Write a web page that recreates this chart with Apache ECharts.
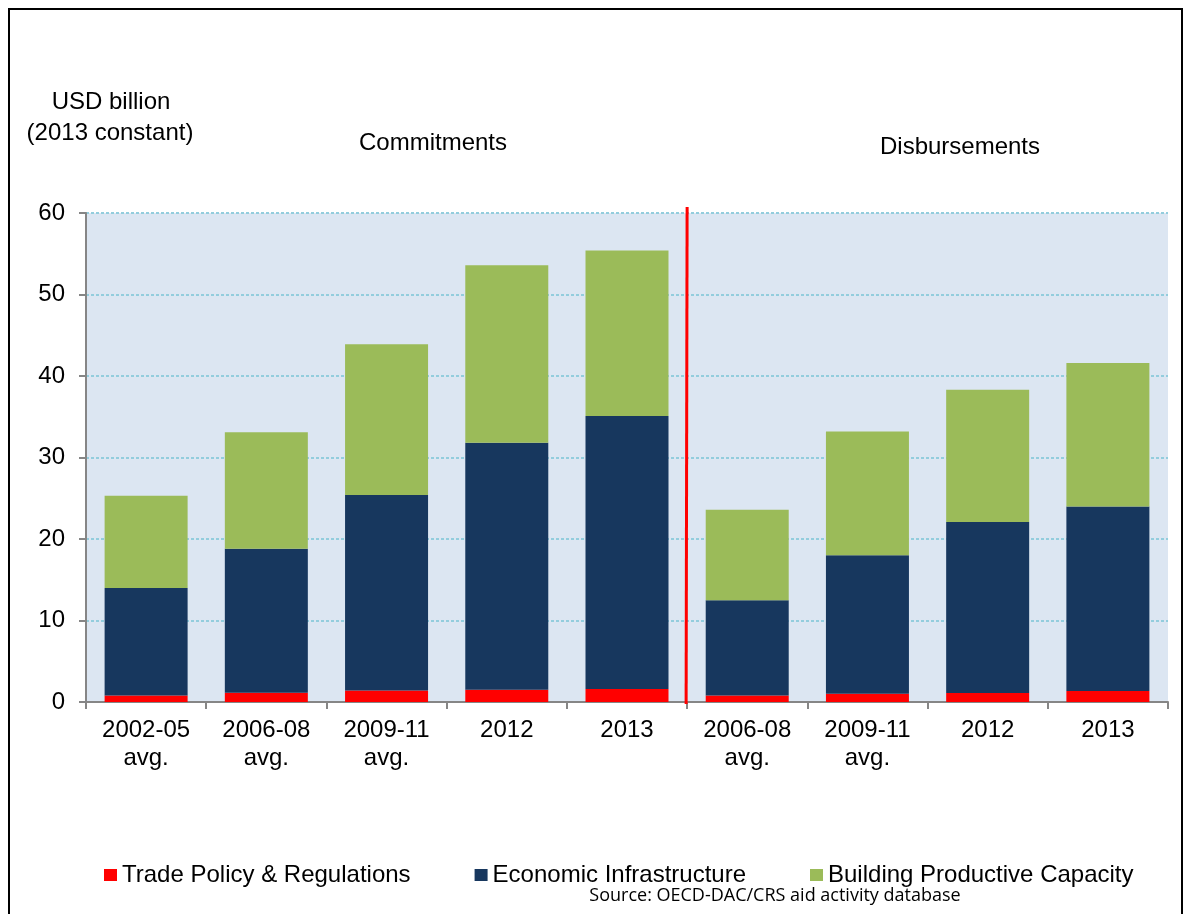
<!DOCTYPE html>
<html><head><meta charset="utf-8">
<script src="https://cdn.jsdelivr.net/npm/echarts@6/dist/echarts.min.js"></script>
<style>html,body{margin:0;padding:0;background:#fff}#c{width:1184px;height:914px}</style>
</head><body><div id="c"></div>
<script>
const categories = ['2002-05\navg.', '2006-08\navg.', '2009-11\navg.', '2012', '2013', '2006-08\navg.', '2009-11\navg.', '2012', '2013'];
// cumulative totals
const tradePolicy = [0.8, 1.15, 1.4, 1.5, 1.6, 0.8, 1.0, 1.1, 1.35];
const econInfraTop = [14.0, 18.8, 25.4, 31.8, 35.1, 12.5, 18.0, 22.1, 24.0];
const totalTop = [25.3, 33.1, 43.9, 53.6, 55.4, 23.6, 33.2, 38.3, 41.6];
const econInfra = econInfraTop.map((v, i) => +(v - tradePolicy[i]).toFixed(2));
const buildCap = totalTop.map((v, i) => +(v - econInfraTop[i]).toFixed(2));
const yTicks = [0, 10, 20, 30, 40, 50, 60];

const chart = echarts.init(document.getElementById('c'), null, {renderer: 'canvas'});
const font = 'Liberation Sans, Arial, sans-serif';
const ts = {fontSize: 24, fontWeight: 'normal', color: '#000', fontFamily: font};
const option = {
  backgroundColor: '#fff',
  animation: false,
  textStyle: {fontFamily: font},
  title: [
    {text: 'USD billion', left: 106, top: 85, textAlign: 'center', textStyle: ts},
    {text: '(2013 constant)', left: 105, top: 116, textAlign: 'center', textStyle: ts},
    {text: 'Commitments', left: 428, top: 126, textAlign: 'center', textStyle: ts},
    {text: 'Disbursements', left: 955, top: 130, textAlign: 'center', textStyle: ts},
    {text: 'Source: OECD-DAC/CRS aid activity database', left: 770, top: 882, textAlign: 'center', textStyle: {fontSize: 18, fontWeight: 'normal', color: '#000', fontFamily: 'Open Sans, sans-serif'}}
  ],
  legend: {
    left: 104, top: 863, padding: 0, itemWidth: 13, itemHeight: 12, itemGap: 64, icon: 'rect',
    textStyle: {fontSize: 24, color: '#000', fontFamily: font},
    data: ['Trade Policy & Regulations', 'Economic Infrastructure', 'Building Productive Capacity']
  },
  grid: {left: 86, right: 16, top: 213, bottom: 212, show: true, backgroundColor: '#DCE6F2', borderWidth: 0},
  xAxis: {
    type: 'category', data: categories,
    axisLine: {lineStyle: {color: '#868686', width: 2}},
    axisTick: {show: true, length: 7, lineStyle: {color: '#868686', width: 2}},
    axisLabel: {fontSize: 24, color: '#000', lineHeight: 28, margin: 14, interval: 0}
  },
  yAxis: {
    type: 'value', min: 0, max: 60, interval: 10,
    axisLine: {show: true, lineStyle: {color: '#868686', width: 2}},
    axisTick: {show: true, length: 7, lineStyle: {color: '#868686', width: 2}},
    axisLabel: {fontSize: 24, color: '#000', margin: 21},
    splitLine: {lineStyle: {color: '#93CDDD', type: [3, 2], width: 2}}
  },
  series: [
    {name: 'Trade Policy & Regulations', type: 'bar', stack: 's', data: tradePolicy, barWidth: 83, itemStyle: {color: '#FF0000'}},
    {name: 'Economic Infrastructure', type: 'bar', stack: 's', data: econInfra, barWidth: 83, itemStyle: {color: '#17375E'}},
    {name: 'Building Productive Capacity', type: 'bar', stack: 's', data: buildCap, barWidth: 83, itemStyle: {color: '#9BBB59'}}
  ]
};
chart.setOption(option);
const xa = chart.convertToPixel({xAxisIndex: 0}, 4);
const xb = chart.convertToPixel({xAxisIndex: 0}, 5);
const sepX = (xa + xb) / 2 - 1;
const y0 = chart.convertToPixel({yAxisIndex: 0}, 0);
chart.setOption({
  graphic: [
    {type: 'rect', shape: {x: 9, y: 9, width: 1173, height: 920}, style: {fill: 'none', stroke: '#000', lineWidth: 2}, silent: true},
    {type: 'line', shape: {x1: sepX + 1, y1: 207, x2: sepX, y2: y0 + 2}, style: {stroke: '#FF0000', lineWidth: 3}, z: 100}
  ]
});
</script></body></html>
